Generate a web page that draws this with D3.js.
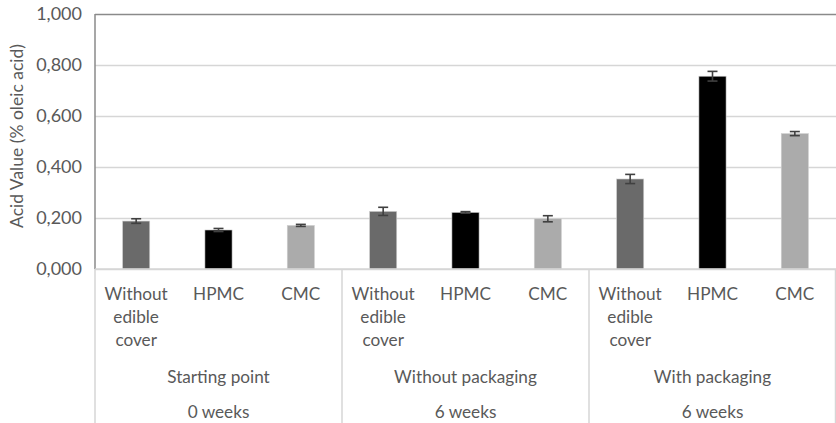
<!DOCTYPE html>
<html><head><meta charset="utf-8">
<script src="https://cdn.jsdelivr.net/npm/d3@7"></script>
<style>body{margin:0;background:#fff}svg{display:block}text{font-family:Lato,"Open Sans",sans-serif;fill:#595959}</style>
</head><body><svg id="c" width="836" height="423"></svg>
<script>
const groups = ["Starting point", "Without packaging", "With packaging"];
const periods = ["0 weeks", "6 weeks", "6 weeks"];
const treatments = ["Without edible cover", "HPMC", "CMC"];
const colors = ["#6a6a6a", "#000000", "#ababab"];
const values = [
  [0.188, 0.153, 0.171],
  [0.226, 0.222, 0.197],
  [0.353, 0.756, 0.531]
];
const errors = [
  [0.009, 0.006, 0.004],
  [0.016, 0.003, 0.012],
  [0.018, 0.019, 0.008]
];
const yTicks = [0, 0.2, 0.4, 0.6, 0.8, 1.0];
const yTitle = "Acid Value (% oleic acid)";

(function () {
const svg = d3.select("#c");
const mL = 95, mR = 836, mT = 14, mB = 269;
const y = d3.scaleLinear().domain([0, 1]).range([mB, mT]);
const cats = [];
groups.forEach((g, gi) => treatments.forEach((t, ti) => cats.push({g: gi, t: ti, key: gi + "-" + ti, v: values[gi][ti], e: errors[gi][ti]})));
const x = d3.scaleBand().domain(cats.map(d => d.key)).range([mL, mR]).paddingInner(0.67).paddingOuter(0.335);
const xg = d3.scaleBand().domain(groups.map((g, i) => i)).range([mL, mR]);
const fmt = v => d3.format(".3f")(v).replace(".", ",");

const yAxis = d3.axisLeft(y).tickValues(yTicks).tickFormat(fmt).tickSize(-(mR - mL)).tickPadding(13);
const ga = svg.append("g").attr("transform", `translate(${mL},0)`).call(yAxis);
ga.select(".domain").remove();
ga.selectAll(".tick line").attr("stroke", "#d6d6d6").attr("stroke-width", 1.5);
ga.selectAll(".tick").filter(d => d === 1).select("line").attr("stroke", "#8a8a8a");
ga.selectAll(".tick text").style("font-size", "18px").attr("fill", "#595959");

svg.append("g").selectAll("line").data(d3.range(groups.length + 1)).join("line")
  .attr("x1", i => i < groups.length ? xg(i) : mR - 0.5).attr("x2", i => i < groups.length ? xg(i) : mR - 0.5)
  .attr("y1", mB).attr("y2", 423).attr("stroke", "#d6d6d6").attr("stroke-width", 1.5);
svg.append("line").attr("x1", mL).attr("x2", mL).attr("y1", mT).attr("y2", mB).attr("stroke", "#8a8a8a").attr("stroke-width", 1.5);

svg.append("g").selectAll("rect").data(cats).join("rect")
  .attr("x", d => x(d.key)).attr("width", x.bandwidth())
  .attr("y", d => y(d.v)).attr("height", d => y(0) - y(d.v))
  .attr("fill", d => colors[d.t]).attr("stroke", "#d0d0d0").attr("stroke-width", 0.6);

const eb = svg.append("g").attr("stroke", "#404040").attr("stroke-width", 1.6);
cats.forEach(d => {
  const cx = x(d.key) + x.bandwidth() / 2;
  eb.append("line").attr("x1", cx).attr("x2", cx).attr("y1", y(d.v + d.e)).attr("y2", y(d.v - d.e));
  [d.v + d.e, d.v - d.e].forEach(v => eb.append("line").attr("x1", cx - 5).attr("x2", cx + 5).attr("y1", y(v)).attr("y2", y(v)));
});

svg.append("line").attr("x1", mL).attr("x2", mR).attr("y1", mB).attr("y2", mB).attr("stroke", "#d6d6d6").attr("stroke-width", 1.5);

const lab = svg.append("g").style("font-size", "17.2px").attr("text-anchor", "middle");
cats.forEach(d => {
  const cx = x(d.key) + x.bandwidth() / 2;
  const t = lab.append("text").attr("x", cx).attr("y", 300);
  treatments[d.t].split(" ").forEach((w, i) => t.append("tspan").attr("x", cx).attr("dy", i ? 23 : 0).text(w));
});
groups.forEach((g, i) => {
  const cx = xg(i) + xg.bandwidth() / 2;
  lab.append("text").attr("x", cx).attr("y", 383).text(g);
  lab.append("text").attr("x", cx).attr("y", 418).text(periods[i]);
});

svg.append("text").attr("transform", "translate(23,136) rotate(-90)").attr("text-anchor", "middle")
  .style("font-size", "17.5px").text(yTitle);
})();
</script></body></html>
